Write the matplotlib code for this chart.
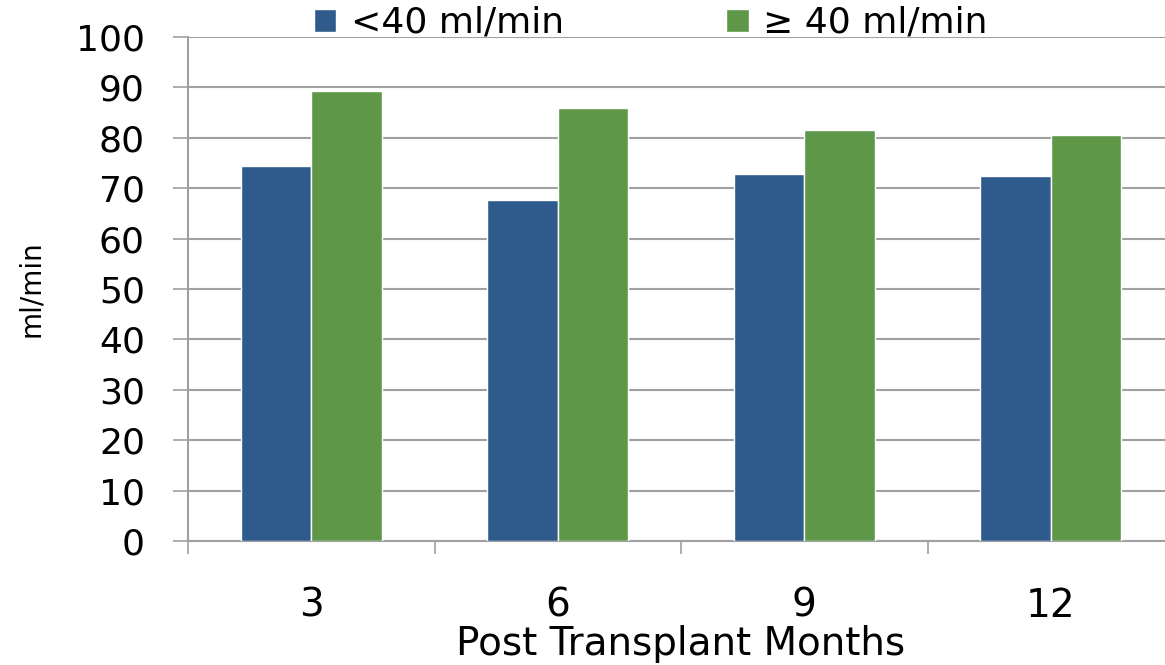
import matplotlib.pyplot as plt
import numpy as np

months = ['3', '6', '9', '12']
low_gfr = [74.5, 67.6, 72.8, 72.4]     # <40 ml/min
high_gfr = [89.3, 86.0, 81.6, 80.6]    # >= 40 ml/min

blue = '#2E5A8C'
green = '#5E9748'
grey = '#A0A0A0'

fig = plt.figure(figsize=(11.65, 6.65), dpi=100)
ax = fig.add_axes([188 / 1165, 124 / 665, 986 / 1165, 504 / 665])

x = np.arange(len(months))
w = 0.285
ax.bar(x - 0.143, low_gfr, width=w, color=blue, edgecolor='white', lw=1,
       label='<40 ml/min', zorder=3)
ax.bar(x + 0.143, high_gfr, width=w, color=green, edgecolor='white', lw=1,
       label='\u2265 40 ml/min', zorder=3)

ax.set_xlim(-0.5, len(months) - 0.5)
ax.set_ylim(0, 100)
ax.set_yticks(np.arange(0, 101, 10))
ax.yaxis.grid(True, color=grey, lw=1.5, zorder=0)

# category labels in the middle, tick marks on the boundaries
ax.set_xticks(x)
ax.set_xticklabels(months, fontsize=28)
ax.set_xticks(np.arange(-0.5, len(months), 1), minor=True)
ax.tick_params(axis='x', which='major', length=0, pad=33)
ax.tick_params(axis='x', which='minor', length=9, width=1.2, color=grey, direction='out')
ax.tick_params(axis='y', length=11, width=1.2, color=grey, labelsize=26, pad=20)

for side in ['top', 'right']:
    ax.spines[side].set_visible(False)
for side in ['left', 'bottom']:
    ax.spines[side].set_color(grey)
    ax.spines[side].set_linewidth(1.5)

ax.set_xlabel('Post Transplant Months', fontsize=28, labelpad=0)
ax.set_ylabel('ml/min', fontsize=20, labelpad=22)

fig.legend(loc='center left', bbox_to_anchor=(314 / 1165, 1 - 23 / 665),
           ncol=2, frameon=False, fontsize=26, borderpad=0, borderaxespad=0,
           handlelength=0.62, handleheight=0.62, handletextpad=0.4,
           columnspacing=4.5)

fig.savefig('out.png', dpi=100)
